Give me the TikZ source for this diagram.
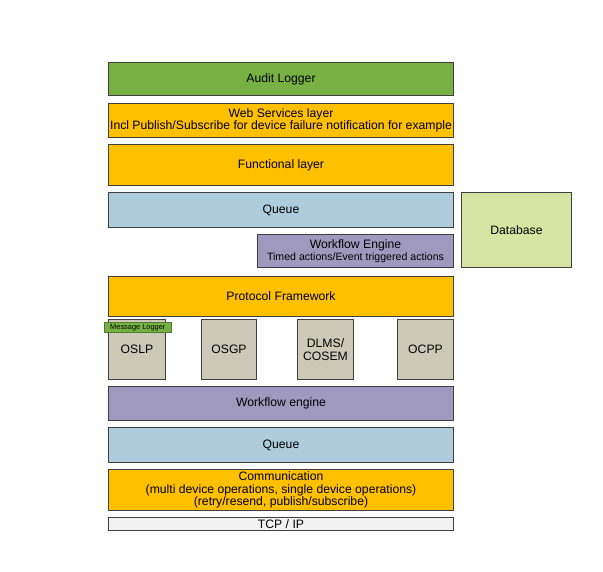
\documentclass[tikz,border=0pt]{standalone}
\usepackage{fontspec}
\setmainfont{Liberation Sans}
\usepackage{xcolor}
\usepackage{tikz}
\usetikzlibrary{positioning}

\definecolor{auditgreen}{HTML}{77B144}
\definecolor{layerorange}{HTML}{FFC000}
\definecolor{queueblue}{HTML}{ADCDDC}
\definecolor{flowpurple}{HTML}{9F99BF}
\definecolor{dbgreen}{HTML}{D7E4A4}
\definecolor{protogray}{HTML}{CDC9B8}
\definecolor{tcpwhite}{HTML}{F2F2F2}
\definecolor{linegray}{HTML}{3F3F3F}

\begin{document}
\begin{tikzpicture}[
    x=1pt, y=-1pt,
    node distance=6pt,
    layer/.style={draw=linegray, line width=1pt, inner sep=0pt, align=center, minimum width=345pt, font=\fontsize{12.2}{12.5}\selectfont},
    proto/.style={draw=linegray, line width=1pt, inner sep=0pt, align=center, minimum width=56pt, minimum height=60pt, fill=protogray, font=\fontsize{12.2}{12.5}\selectfont, anchor=north west},
    tag/.style={draw=auditgreen!70!black, line width=0.6pt, inner sep=0pt, minimum width=67pt, minimum height=10pt, fill=auditgreen, font=\fontsize{7.4}{8}\selectfont, anchor=north west}
]
\useasboundingbox (0,0) rectangle (603,572);

% upper stack
\node[layer, fill=auditgreen, minimum height=33pt, anchor=north west] (audit) at (108,62) {Audit Logger};
\node[layer, fill=layerorange, minimum height=34pt, below=7pt of audit] (web) {Web Services layer\\Incl Publish/Subscribe for device failure notification for example};
\node[layer, fill=layerorange, minimum height=41pt, below=of web] (func) {Functional layer};
\node[layer, fill=queueblue, minimum height=35pt, below=of func] (queue) {Queue};
\node[layer, fill=flowpurple, minimum width=196pt, minimum height=33pt, below=of queue.south east, anchor=north east] (wfengine) {Workflow Engine\\{\fontsize{10.6}{11}\selectfont Timed actions/Event triggered actions}};
\node[layer, fill=dbgreen, minimum width=110pt, minimum height=75pt, anchor=north west] (db) at (461,192) {Database};
\node[layer, fill=layerorange, minimum height=40pt, anchor=north west] (protocol) at (108,276) {Protocol Framework};

% protocols
\node[proto, minimum width=57pt] (oslp) at (108,319) {OSLP};
\node[proto, minimum width=55pt] (osgp) at (201,319) {OSGP};
\node[proto] (dlms) at (297,319) {DLMS/\\COSEM};
\node[proto] (ocpp) at (397,319) {OCPP};
\node[tag] (msglog) at (104,322) {Message Logger};

% lower stack
\node[layer, fill=flowpurple, minimum height=34pt, anchor=north west] (wfengine2) at (108,386) {Workflow engine};
\node[layer, fill=queueblue, minimum height=35pt, below=of wfengine2] (queue2) {Queue};
\node[layer, fill=layerorange, minimum height=41pt, below=of queue2] (comm) {Communication\\(multi device operations, single device operations)\\(retry/resend, publish/subscribe)};
\node[layer, fill=tcpwhite, minimum height=13pt, below=of comm] (tcp) {TCP / IP};
\end{tikzpicture}
\end{document}
